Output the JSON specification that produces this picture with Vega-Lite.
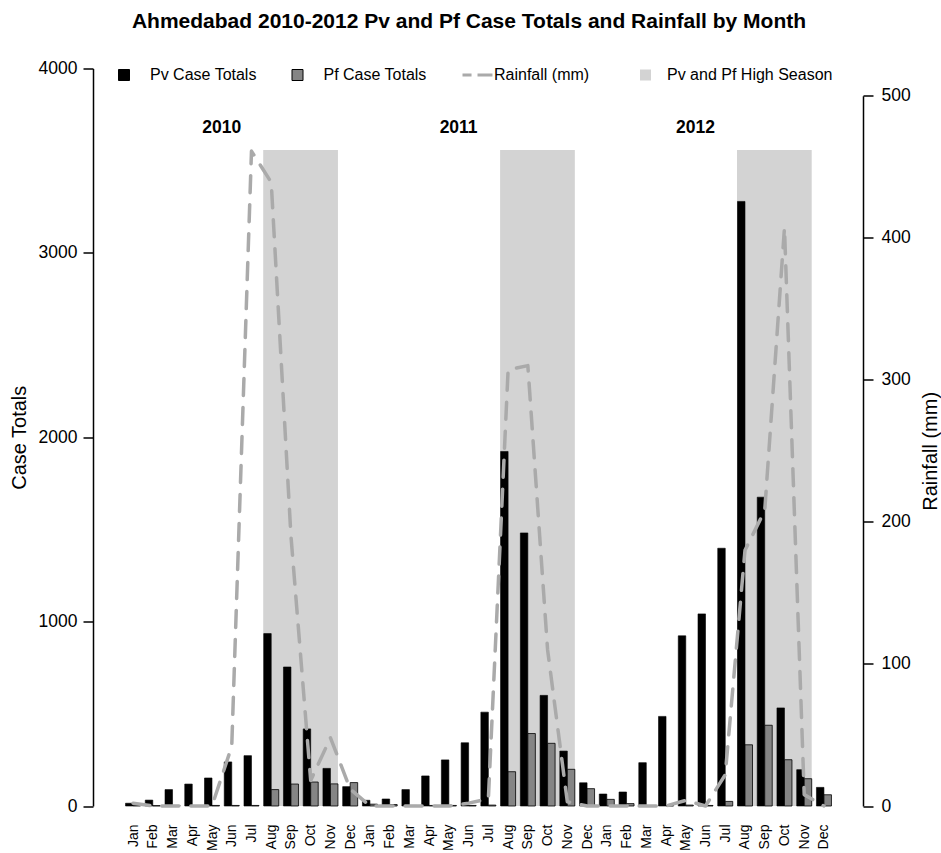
{
  "$schema": "https://vega.github.io/schema/vega-lite/v6.json",
  "width": 770,
  "height": 737.5,
  "autosize": {"type": "none"},
  "padding": {"left": 93, "top": 68.5, "right": 78, "bottom": 47},
  "background": "white",
  "title": {
    "text": "Ahmedabad 2010-2012 Pv and Pf Case Totals and Rainfall by Month",
    "font": "Liberation Sans",
    "fontSize": 21,
    "fontWeight": "bold",
    "color": "black",
    "anchor": "middle",
    "offset": 28,
    "dx": -9
  },
  "config": {
    "view": {"stroke": null},
    "font": "Liberation Sans",
    "axis": {
      "grid": false,
      "labelFont": "Liberation Sans",
      "titleFont": "Liberation Sans",
      "labelColor": "black",
      "titleColor": "black",
      "domainColor": "black",
      "tickColor": "black",
      "titleFontWeight": "normal"
    },
    "axisX": {"labelOverlap": false},
    "legend": {"labelFont": "Liberation Sans", "labelColor": "black"}
  },
  "datasets": {
    "monthly": [
      {"idx": 1, "year": 2010, "month": "Jan", "Pv": 15, "Pf": 3, "rain": 2},
      {"idx": 2, "year": 2010, "month": "Feb", "Pv": 32, "Pf": 2, "rain": 0},
      {"idx": 3, "year": 2010, "month": "Mar", "Pv": 89, "Pf": 3, "rain": 0},
      {"idx": 4, "year": 2010, "month": "Apr", "Pv": 119, "Pf": 2, "rain": 0},
      {"idx": 5, "year": 2010, "month": "May", "Pv": 152, "Pf": 3, "rain": 0},
      {"idx": 6, "year": 2010, "month": "Jun", "Pv": 239, "Pf": 3, "rain": 42},
      {"idx": 7, "year": 2010, "month": "Jul", "Pv": 273, "Pf": 3, "rain": 461},
      {"idx": 8, "year": 2010, "month": "Aug", "Pv": 935, "Pf": 89, "rain": 439},
      {"idx": 9, "year": 2010, "month": "Sep", "Pv": 754, "Pf": 119, "rain": 190},
      {"idx": 10, "year": 2010, "month": "Oct", "Pv": 418, "Pf": 130, "rain": 18},
      {"idx": 11, "year": 2010, "month": "Nov", "Pv": 204, "Pf": 120, "rain": 48},
      {"idx": 12, "year": 2010, "month": "Dec", "Pv": 105, "Pf": 127, "rain": 12},
      {"idx": 13, "year": 2011, "month": "Jan", "Pv": 31, "Pf": 10, "rain": 0},
      {"idx": 14, "year": 2011, "month": "Feb", "Pv": 38, "Pf": 8, "rain": 0},
      {"idx": 15, "year": 2011, "month": "Mar", "Pv": 89, "Pf": 3, "rain": 0},
      {"idx": 16, "year": 2011, "month": "Apr", "Pv": 163, "Pf": 3, "rain": 0},
      {"idx": 17, "year": 2011, "month": "May", "Pv": 250, "Pf": 3, "rain": 0},
      {"idx": 18, "year": 2011, "month": "Jun", "Pv": 343, "Pf": 3, "rain": 2},
      {"idx": 19, "year": 2011, "month": "Jul", "Pv": 509, "Pf": 5, "rain": 5},
      {"idx": 20, "year": 2011, "month": "Aug", "Pv": 1923, "Pf": 186, "rain": 307},
      {"idx": 21, "year": 2011, "month": "Sep", "Pv": 1481, "Pf": 393, "rain": 310},
      {"idx": 22, "year": 2011, "month": "Oct", "Pv": 600, "Pf": 340, "rain": 110},
      {"idx": 23, "year": 2011, "month": "Nov", "Pv": 298, "Pf": 199, "rain": 3},
      {"idx": 24, "year": 2011, "month": "Dec", "Pv": 126, "Pf": 94, "rain": 0},
      {"idx": 25, "year": 2012, "month": "Jan", "Pv": 65, "Pf": 36, "rain": 0},
      {"idx": 26, "year": 2012, "month": "Feb", "Pv": 76, "Pf": 13, "rain": 0},
      {"idx": 27, "year": 2012, "month": "Mar", "Pv": 235, "Pf": 2, "rain": 0},
      {"idx": 28, "year": 2012, "month": "Apr", "Pv": 486, "Pf": 2, "rain": 0},
      {"idx": 29, "year": 2012, "month": "May", "Pv": 923, "Pf": 5, "rain": 4},
      {"idx": 30, "year": 2012, "month": "Jun", "Pv": 1042, "Pf": 3, "rain": 0},
      {"idx": 31, "year": 2012, "month": "Jul", "Pv": 1398, "Pf": 25, "rain": 22},
      {"idx": 32, "year": 2012, "month": "Aug", "Pv": 3279, "Pf": 332, "rain": 180},
      {"idx": 33, "year": 2012, "month": "Sep", "Pv": 1675, "Pf": 438, "rain": 208},
      {"idx": 34, "year": 2012, "month": "Oct", "Pv": 532, "Pf": 251, "rain": 407},
      {"idx": 35, "year": 2012, "month": "Nov", "Pv": 197, "Pf": 148, "rain": 8},
      {"idx": 36, "year": 2012, "month": "Dec", "Pv": 101, "Pf": 61, "rain": 0}
    ],
    "seasons": [
      {"year": 2010, "start": 8, "end": 11},
      {"year": 2011, "start": 20, "end": 23},
      {"year": 2012, "start": 32, "end": 35}
    ],
    "years": [
      {"year": "2010", "idx": 6},
      {"year": "2011", "idx": 18},
      {"year": "2012", "idx": 30}
    ]
  },
  "layer": [
    {
      "layer": [
        {
          "data": {"name": "seasons"},
          "mark": {"type": "rect", "fill": "#d3d3d3", "xOffset": -8, "x2Offset": 7.5},
          "encoding": {
            "x": {
              "field": "start", "type": "quantitative",
              "scale": {"domain": [-0.775, 37.725], "nice": false, "zero": false},
              "axis": {
                "values": [1,2,3,4,5,6,7,8,9,10,11,12,13,14,15,16,17,18,19,20,21,22,23,24,25,26,27,28,29,30,31,32,33,34,35,36],
                "labelExpr": "['Jan','Feb','Mar','Apr','May','Jun','Jul','Aug','Sep','Oct','Nov','Dec'][(datum.value - 1) % 12]",
                "domain": false, "ticks": false, "tickSize": 0, "labelAngle": 270, "labelFontSize": 14,
                "labelPadding": 18, "labelOverlap": false, "labelBound": false, "labelFlush": false, "title": null
              }
            },
            "x2": {"field": "end"},
            "y": {
              "datum": 0, "type": "quantitative",
              "scale": {"domain": [0, 4000], "nice": false},
              "axis": {
                "values": [0, 1000, 2000, 3000, 4000],
                "format": "d",
                "tickSize": 10,
                "tickWidth": 1.5,
                "domainWidth": 1.5,
                "labelFontSize": 17.5,
                "labelPadding": 6,
                "labelFlush": false,
                "title": "Case Totals",
                "titleFontSize": 20,
                "titlePadding": 9
              }
            },
            "y2": {"datum": 3558}
          }
        },
        {
          "data": {"name": "monthly"},
          "mark": {"type": "bar", "orient": "vertical", "width": 7.5, "xOffset": -3.75, "stroke": "black", "strokeWidth": 0.6},
          "encoding": {
            "x": {
              "field": "idx", "type": "quantitative",
              "scale": {"domain": [-0.775, 37.725], "nice": false, "zero": false},
              "axis": {
                "values": [1,2,3,4,5,6,7,8,9,10,11,12,13,14,15,16,17,18,19,20,21,22,23,24,25,26,27,28,29,30,31,32,33,34,35,36],
                "labelExpr": "['Jan','Feb','Mar','Apr','May','Jun','Jul','Aug','Sep','Oct','Nov','Dec'][(datum.value - 1) % 12]",
                "domain": false, "ticks": false, "tickSize": 0, "labelAngle": 270, "labelFontSize": 14,
                "labelPadding": 18, "labelOverlap": false, "labelBound": false, "labelFlush": false, "title": null
              }
            },
            "y": {"field": "Pv", "type": "quantitative", "scale": {"domain": [0, 4000], "nice": false}},
            "color": {
              "datum": "Pv Case Totals",
              "type": "nominal",
              "scale": {
                "domain": ["Pv Case Totals", "Pf Case Totals", "Rainfall (mm)", "Pv and Pf High Season"],
                "range": ["#000000", "#858585", "#aaaaaa", "#d3d3d3"]
              },
              "legend": {
                "orient": "none", "legendX": 23, "legendY": -1.5, "direction": "horizontal", "title": null,
                "symbolSize": 121, "labelFontSize": 16, "labelLimit": 0, "columnPadding": 32.5,
                "symbolType": {"expr": "datum.value === 'Rainfall (mm)' ? 'M-1,-0.27H0.64V0.27H-1Z M1.73,-0.27H4.45V0.27H1.73Z' : 'square'"},
                "symbolStrokeColor": {"expr": "datum.value === 'Rainfall (mm)' || datum.value === 'Pv and Pf High Season' ? 'transparent' : '#000000'"},
                "symbolStrokeWidth": 1,
                "symbolOffset": {"expr": "datum.value === 'Pv and Pf High Season' ? 15 : 0"},
                "labelOffset": {"expr": "datum.value === 'Pv and Pf High Season' ? 13.5 : 18"}
              }
            }
          }
        },
        {
          "data": {"name": "monthly"},
          "mark": {"type": "bar", "orient": "vertical", "width": 7.5, "xOffset": 3.75, "stroke": "black", "strokeWidth": 0.8},
          "encoding": {
            "x": {
              "field": "idx", "type": "quantitative",
              "scale": {"domain": [-0.775, 37.725], "nice": false, "zero": false},
              "axis": {
                "values": [1,2,3,4,5,6,7,8,9,10,11,12,13,14,15,16,17,18,19,20,21,22,23,24,25,26,27,28,29,30,31,32,33,34,35,36],
                "labelExpr": "['Jan','Feb','Mar','Apr','May','Jun','Jul','Aug','Sep','Oct','Nov','Dec'][(datum.value - 1) % 12]",
                "domain": false, "ticks": false, "tickSize": 0, "labelAngle": 270, "labelFontSize": 14,
                "labelPadding": 18, "labelOverlap": false, "labelBound": false, "labelFlush": false, "title": null
              }
            },
            "y": {"field": "Pf", "type": "quantitative", "scale": {"domain": [0, 4000], "nice": false}},
            "color": {
              "datum": "Pf Case Totals",
              "type": "nominal",
              "scale": {
                "domain": ["Pv Case Totals", "Pf Case Totals", "Rainfall (mm)", "Pv and Pf High Season"],
                "range": ["#000000", "#858585", "#aaaaaa", "#d3d3d3"]
              },
              "legend": {
                "orient": "none", "legendX": 23, "legendY": -1.5, "direction": "horizontal", "title": null,
                "symbolSize": 121, "labelFontSize": 16, "labelLimit": 0, "columnPadding": 32.5,
                "symbolType": {"expr": "datum.value === 'Rainfall (mm)' ? 'M-1,-0.27H0.64V0.27H-1Z M1.73,-0.27H4.45V0.27H1.73Z' : 'square'"},
                "symbolStrokeColor": {"expr": "datum.value === 'Rainfall (mm)' || datum.value === 'Pv and Pf High Season' ? 'transparent' : '#000000'"},
                "symbolStrokeWidth": 1,
                "symbolOffset": {"expr": "datum.value === 'Pv and Pf High Season' ? 15 : 0"},
                "labelOffset": {"expr": "datum.value === 'Pv and Pf High Season' ? 13.5 : 18"}
              }
            }
          }
        },
        {
          "data": {"name": "years"},
          "mark": {"type": "text", "font": "Liberation Sans", "fontWeight": "bold", "fontSize": 17.5, "dx": -10, "baseline": "middle", "align": "center", "color": "black"},
          "encoding": {
            "x": {
              "field": "idx", "type": "quantitative",
              "scale": {"domain": [-0.775, 37.725], "nice": false, "zero": false},
              "axis": {
                "values": [1,2,3,4,5,6,7,8,9,10,11,12,13,14,15,16,17,18,19,20,21,22,23,24,25,26,27,28,29,30,31,32,33,34,35,36],
                "labelExpr": "['Jan','Feb','Mar','Apr','May','Jun','Jul','Aug','Sep','Oct','Nov','Dec'][(datum.value - 1) % 12]",
                "domain": false, "ticks": false, "tickSize": 0, "labelAngle": 270, "labelFontSize": 14,
                "labelPadding": 18, "labelOverlap": false, "labelBound": false, "labelFlush": false, "title": null
              }
            },
            "y": {"datum": 3677, "type": "quantitative", "scale": {"domain": [0, 4000], "nice": false}},
            "text": {"field": "year", "type": "nominal"}
          }
        }
      ]
    },
    {
      "data": {"name": "monthly"},
      "mark": {"type": "line", "stroke": "#aaaaaa", "strokeWidth": 3.5, "strokeDash": [17, 12], "strokeCap": "round", "strokeJoin": "round"},
      "encoding": {
        "x": {
          "field": "idx", "type": "quantitative",
          "scale": {"domain": [-0.775, 37.725], "nice": false, "zero": false},
          "axis": {
            "values": [1,2,3,4,5,6,7,8,9,10,11,12,13,14,15,16,17,18,19,20,21,22,23,24,25,26,27,28,29,30,31,32,33,34,35,36],
            "labelExpr": "['Jan','Feb','Mar','Apr','May','Jun','Jul','Aug','Sep','Oct','Nov','Dec'][(datum.value - 1) % 12]",
            "domain": false, "ticks": false, "tickSize": 0, "labelAngle": 270, "labelFontSize": 14,
            "labelPadding": 18, "labelOverlap": false, "labelBound": false, "labelFlush": false, "title": null
          }
        },
        "y": {
          "field": "rain", "type": "quantitative",
          "scale": {"domain": [0, 500], "nice": false, "range": [737.5, 27.2]},
          "axis": {
            "orient": "right",
            "values": [0, 100, 200, 300, 400, 500],
            "format": "d",
            "tickSize": 10,
            "tickWidth": 1.5,
            "domainWidth": 1.5,
            "labelFontSize": 17.5,
            "labelPadding": 8,
            "labelFlush": false,
            "title": "Rainfall (mm)",
            "titleFontSize": 20,
            "titleAngle": 270,
            "titleBaseline": "top",
            "titlePadding": 10
          }
        }
      }
    }
  ],
  "resolve": {"scale": {"y": "independent"}}
}
